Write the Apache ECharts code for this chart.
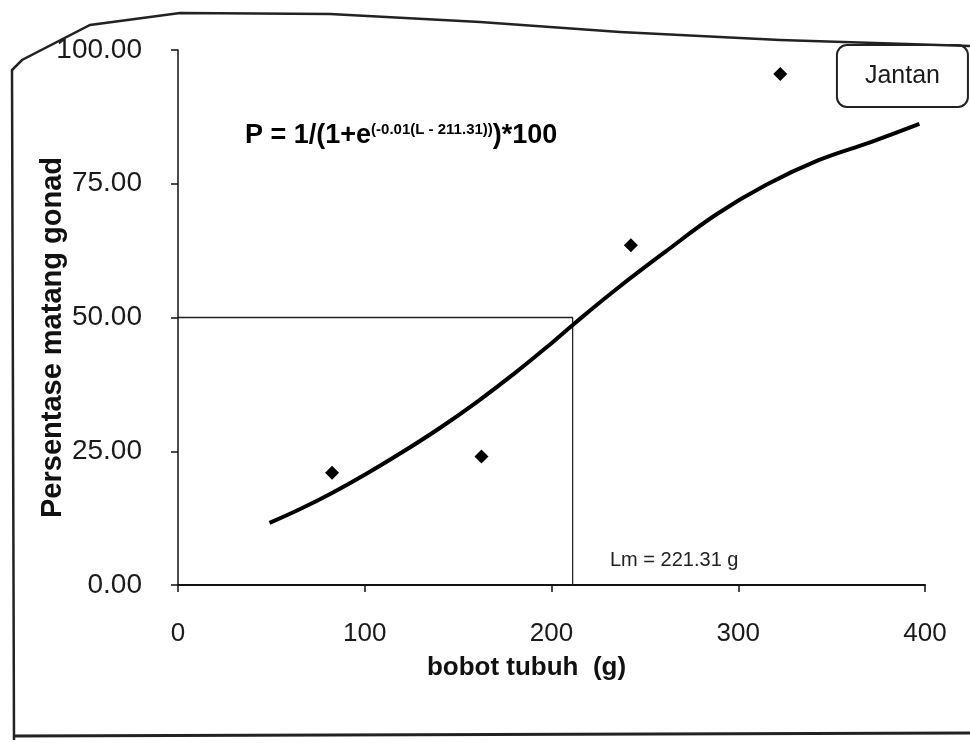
<!DOCTYPE html>
<html lang="en">
<head>
    <meta charset="UTF-8">
    <title>Jantan</title>
    <style>
        html, body { margin: 0; padding: 0; background: #fff; }
    </style>
</head>
<body>
    <div id="main" style="width: 970px;height: 743px;"></div>
    <script src="https://cdn.jsdelivr.net/npm/echarts@6/dist/echarts.min.js"></script>
    <script>
        // observed points (bobot tubuh, % matang gonad)
        var obsX = [82.5, 162.5, 242.5, 322.5];
        var obsY = [21, 24, 63.5, 95.5];

        // fitted curve
        var fitX = [49, 66, 82.5, 100, 120, 140, 160, 180, 200, 212, 234, 261, 288, 315, 343, 371, 397];
        var fitY = [11.6, 14.3, 17.2, 20.6, 24.8, 29.3, 34.2, 39.5, 45.2, 48.8, 55.1, 62.3, 69.2, 74.8, 79.4, 82.8, 86.2];

        // Lm guide lines
        var lmX = 211.31;
        var lmY = 50;

        var xTicks = [0, 100, 200, 300, 400];
        var yTicks = [0, 25, 50, 75, 100];

        function pairs(xs, ys) {
            return xs.map(function (x, i) { return [x, ys[i]]; });
        }

        var font = 'Liberation Sans, Arial, sans-serif';
        var chart = echarts.init(document.getElementById('main'));

        chart.setOption({
            animation: false,
            backgroundColor: '#fff',
            title: {
                text: 'Jantan',
                right: 2,
                top: 45,
                padding: [19, 28, 18, 28],
                borderColor: '#222',
                borderWidth: 2,
                borderRadius: 10,
                textStyle: { fontFamily: font, fontWeight: 'normal', fontSize: 25, color: '#1a1a1a' }
            },
            grid: { left: 178, right: 45, top: 50, bottom: 158 },
            xAxis: {
                type: 'value',
                min: xTicks[0],
                max: xTicks[xTicks.length - 1],
                interval: 100,
                name: 'bobot tubuh  (g)',
                nameLocation: 'middle',
                nameGap: 70,
                nameMoveOverlap: false,
                nameTextStyle: { fontFamily: font, fontWeight: 'bold', fontSize: 26, color: '#111', padding: [0, 50, 0, 0] },
                axisLine: { lineStyle: { color: '#111', width: 2 } },
                axisTick: { length: 7, lineStyle: { color: '#111', width: 1.5 } },
                axisLabel: { fontFamily: font, fontSize: 26, color: '#1a1a1a', margin: 36 },
                splitLine: { show: false }
            },
            yAxis: {
                type: 'value',
                min: yTicks[0],
                max: yTicks[yTicks.length - 1],
                interval: 25,
                name: 'Persentase matang gonad',
                nameLocation: 'middle',
                nameGap: 111,
                nameMoveOverlap: false,
                nameTextStyle: { fontFamily: font, fontWeight: 'bold', fontSize: 29, color: '#111', padding: [0, 40, 0, 0] },
                axisLine: { show: true, lineStyle: { color: '#111', width: 1.5 } },
                axisTick: { show: true, length: 7, lineStyle: { color: '#111', width: 1.5 } },
                axisLabel: {
                    fontFamily: font, fontSize: 28, color: '#1a1a1a', margin: 36,
                    formatter: function (v) { return v.toFixed(2); }
                },
                splitLine: { show: false }
            },
            series: [
                {
                    name: 'guide',
                    type: 'line',
                    data: [[0, lmY], [lmX, lmY], [lmX, 0]],
                    symbol: 'none',
                    lineStyle: { color: '#222', width: 1.3 },
                    z: 1
                },
                {
                    name: 'fit',
                    type: 'line',
                    smooth: 0.4,
                    data: pairs(fitX, fitY),
                    symbol: 'none',
                    lineStyle: { color: '#000', width: 4 },
                    z: 2
                },
                {
                    name: 'Jantan',
                    type: 'scatter',
                    data: pairs(obsX, obsY),
                    symbol: 'diamond',
                    symbolSize: 14,
                    itemStyle: { color: '#000', opacity: 1 },
                    z: 3
                }
            ],
            graphic: [
                {
                    type: 'polyline',
                    shape: {
                        points: [[14, 740], [12, 70], [22, 60], [90, 25], [180, 13], [330, 14], [480, 22], [620, 32], [780, 40], [970, 46]]
                    },
                    style: { fill: null, stroke: '#222', lineWidth: 2.5 },
                    z: 0
                },
                {
                    type: 'line',
                    shape: { x1: 14, y1: 736, x2: 970, y2: 733 },
                    style: { stroke: '#222', lineWidth: 3 },
                    z: 0
                },
                {
                    type: 'text',
                    left: 245,
                    top: 122,
                    style: {
                        text: '{b|P = 1/(1+e}{s|(-0.01(L - 211.31))}{b|)*100}',
                        rich: {
                            b: { fontFamily: font, fontWeight: 'bold', fontSize: 27, color: '#111', verticalAlign: 'bottom' },
                            s: { fontFamily: font, fontWeight: 'bold', fontSize: 15, color: '#111', verticalAlign: 'top', padding: [0, 0, 11, 0] }
                        }
                    }
                },
                {
                    type: 'text',
                    left: 610,
                    top: 550,
                    style: { text: 'Lm = 221.31 g', fontFamily: font, fontSize: 20, fill: '#222' }
                }
            ]
        });
    </script>
</body>
</html>
